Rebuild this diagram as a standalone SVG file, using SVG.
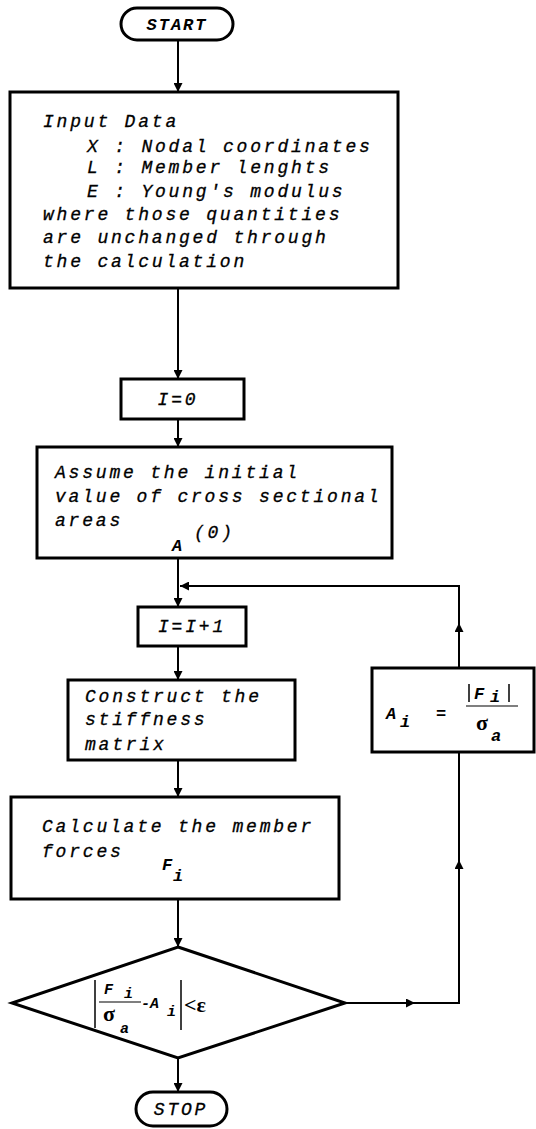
<svg xmlns="http://www.w3.org/2000/svg" width="536" height="1129" viewBox="0 0 536 1129">
<style>
.box{fill:#fff;stroke:#000;stroke-width:3}
.ln{fill:none;stroke:#000;stroke-width:2}
.t{font-family:"Liberation Mono","DejaVu Sans Mono",monospace;font-style:italic;font-size:18px;letter-spacing:2.8px;fill:#000;stroke:#000;stroke-width:0.3}
.b{font-family:"Liberation Mono","DejaVu Sans Mono",monospace;font-style:italic;font-weight:bold;font-size:17px;fill:#000}
.m{font-family:"Liberation Mono","DejaVu Sans Mono",monospace;font-style:italic;font-weight:bold;font-size:15px;fill:#000}
.s{font-family:"Liberation Serif","DejaVu Serif",serif;font-weight:bold;font-size:22px;fill:#000}
</style>
<defs>
<marker id="ah" viewBox="0 0 10 10" refX="10" refY="5" markerWidth="9" markerHeight="9" markerUnits="userSpaceOnUse" orient="auto">
<path d="M0,0 L10,5 L0,10 Z" fill="#000"/>
</marker>
</defs>
<g id="connectors">
<path class="ln" d="M178 40 V92" marker-end="url(#ah)"/>
<path class="ln" d="M178 288 V379" marker-end="url(#ah)"/>
<path class="ln" d="M178 419 V447" marker-end="url(#ah)"/>
<path class="ln" d="M178 558 V607" marker-end="url(#ah)"/>
<path class="ln" d="M178 646 V680" marker-end="url(#ah)"/>
<path class="ln" d="M178 760 V797" marker-end="url(#ah)"/>
<path class="ln" d="M178 899 V947" marker-end="url(#ah)"/>
<path class="ln" d="M178 1058 V1092" marker-end="url(#ah)"/>
<path class="ln" d="M345 1003 H415" marker-end="url(#ah)"/>
<path class="ln" d="M415 1003 H459 V860" marker-end="url(#ah)"/>
<path class="ln" d="M459 860 V752"/>
<path class="ln" d="M459 668 V623" marker-end="url(#ah)"/>
<path class="ln" d="M459 623 V586 H180" marker-end="url(#ah)"/>
</g>
<g id="start">
<rect class="box" x="121" y="8" width="112" height="32" rx="16"/>
<text class="b" x="177" y="30" text-anchor="middle" letter-spacing="2">START</text>
</g>
<g id="input">
<rect class="box" x="10" y="92" width="388" height="196"/>
<text class="t" x="43" y="127">Input Data</text>
<text class="t" x="87" y="152">X : Nodal coordinates</text>
<text class="t" x="87" y="173">L : Member lenghts</text>
<text class="t" x="87" y="197">E : Young's modulus</text>
<text class="t" x="43" y="220">where those quantities</text>
<text class="t" x="43" y="243">are unchanged through</text>
<text class="t" x="43" y="267">the calculation</text>
</g>
<g id="i0">
<rect class="box" x="121" y="379" width="123" height="40"/>
<text class="t" x="178" y="405" text-anchor="middle" letter-spacing="1">I=0</text>
</g>
<g id="assume">
<rect class="box" x="37" y="447" width="355" height="111"/>
<text class="t" x="55" y="478">Assume the initial</text>
<text class="t" x="55" y="502">value of cross sectional</text>
<text class="t" x="55" y="526">areas</text>
<text class="b" x="172" y="551">A</text>
<text class="t" x="194" y="538" letter-spacing="1">(0)</text>
</g>
<g id="inc">
<rect class="box" x="138" y="607" width="108" height="39"/>
<text class="t" x="192" y="632" text-anchor="middle" letter-spacing="1">I=I+1</text>
</g>
<g id="construct">
<rect class="box" x="68" y="680" width="227" height="80"/>
<text class="t" x="85" y="702">Construct the</text>
<text class="t" x="85" y="725">stiffness</text>
<text class="t" x="85" y="750">matrix</text>
</g>
<g id="calculate">
<rect class="box" x="11" y="797" width="328" height="102"/>
<text class="t" x="42" y="832">Calculate the member</text>
<text class="t" x="42" y="857">forces</text>
<text class="b" x="162" y="870">F</text>
<text class="b" x="173" y="881">i</text>
</g>
<g id="check">
<polygon class="box" points="178,947 345,1003 178,1058 12,1003"/>
<line x1="95" y1="980" x2="95" y2="1028" stroke="#000" stroke-width="1.5"/>
<text class="m" x="104" y="994">F</text>
<text class="m" x="124" y="998">i</text>
<line x1="99" y1="1002" x2="141" y2="1002" stroke="#000" stroke-width="1.2"/>
<text class="s" x="103" y="1021">σ</text>
<text class="m" x="120" y="1033">a</text>
<text class="m" x="141" y="1008">-A</text>
<text class="m" x="167" y="1016">i</text>
<line x1="181" y1="980" x2="181" y2="1030" stroke="#000" stroke-width="1.5"/>
<text class="s" x="184" y="1012">&lt;ε</text>
</g>
<g id="update">
<rect class="box" x="372" y="668" width="162" height="84"/>
<text class="b" x="386" y="719">A</text>
<text class="b" x="400" y="727">i</text>
<text class="b" x="436" y="719">=</text>
<line x1="469" y1="684" x2="469" y2="702" stroke="#000" stroke-width="1.5"/>
<text class="b" x="474" y="699">F</text>
<text class="b" x="490" y="702">i</text>
<line x1="509" y1="684" x2="509" y2="702" stroke="#000" stroke-width="1.5"/>
<line x1="466" y1="706" x2="518" y2="706" stroke="#000" stroke-width="1.2"/>
<text class="s" x="476" y="730">σ</text>
<text class="b" x="491" y="741">a</text>
</g>
<g id="stop">
<rect class="box" x="136" y="1092" width="91" height="34" rx="17"/>
<text class="t" x="181" y="1115" text-anchor="middle" letter-spacing="2">STOP</text>
</g>
</svg>
